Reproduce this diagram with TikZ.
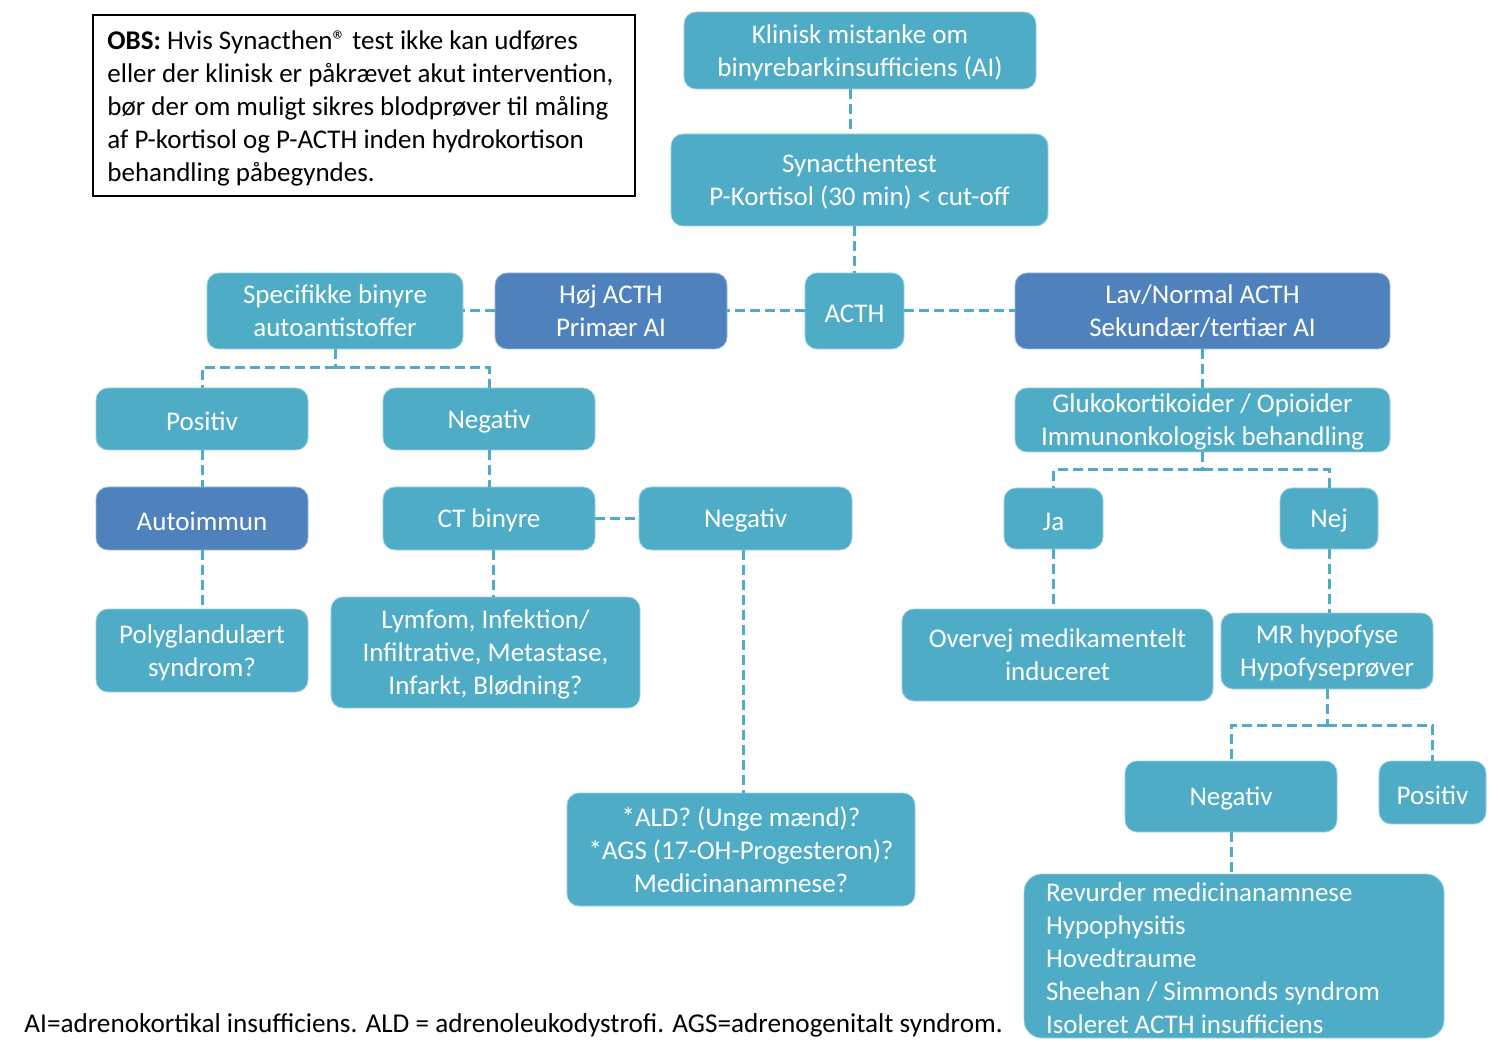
\documentclass[tikz,border=0pt]{standalone}
\usepackage{fontspec}
\setmainfont{Carlito}
\definecolor{aqua}{HTML}{4FACC6}
\definecolor{navy}{HTML}{4F81BD}
\newcommand{\boxfont}{\fontsize{13.5}{16.5}\selectfont}
\begin{document}
\begin{tikzpicture}[x=0.5pt,y=-0.5pt,
  lbox/.style={rounded corners=6pt, fill=aqua, draw=aqua!55!white, line width=0.4pt, text=white, align=center, inner sep=0pt, font=\boxfont},
  one/.style={execute at begin node={\rule{0pt}{11.6pt}}},
  multi/.style={text depth=-0.7pt},
  dbox/.style={lbox, fill=navy, draw=navy!55!white},
  conn/.style={draw=aqua, line width=1.5pt, dash pattern=on 5pt off 2.5pt}]
\useasboundingbox (0,0) rectangle (1502,1052);
% OBS note
\node[draw=black, line width=0.6pt, minimum width=271pt, minimum height=90.5pt, inner sep=0pt] (obs) at (364,105.5) {};
\node[anchor=north west, align=left, inner sep=0pt, font=\boxfont] (obstxt) at (107,30) {\textbf{OBS:} Hvis Synacthen® test ikke kan udføres\\eller der klinisk er påkrævet akut intervention,\\bør der om muligt sikres blodprøver til måling\\af P-kortisol og P-ACTH inden hydrokortison\\behandling påbegyndes.};
% boxes
\node[lbox, multi, minimum width=176pt, minimum height=38.5pt] (klin) at (860,50.5) {Klinisk mistanke om\\binyrebarkinsufficiens (AI)};
\node[lbox, multi, minimum width=188.5pt, minimum height=46pt] (syn) at (859.5,180) {Synacthentest\\P-Kortisol (30 min) < cut-off};
\node[lbox, one, minimum width=49.5pt, minimum height=38pt] (acth) at (854.5,311) {ACTH};
\node[dbox, multi, minimum width=116pt, minimum height=38pt] (hoj) at (611,311) {Høj ACTH\\Primær AI};
\node[lbox, multi, minimum width=128pt, minimum height=38pt] (spec) at (335,311) {Specifikke binyre\\autoantistoffer};
\node[dbox, multi, minimum width=187.5pt, minimum height=38pt] (lav) at (1202.5,311) {Lav/Normal ACTH\\Sekundær/tertiær AI};
\node[lbox, one, minimum width=106pt, minimum height=31pt] (pos1) at (202,419) {Positiv};
\node[lbox, one, minimum width=106pt, minimum height=31pt] (neg1) at (489,419) {Negativ};
\node[dbox, one, minimum width=106pt, minimum height=31.5pt] (auto) at (202,518.5) {Autoimmun};
\node[lbox, one, minimum width=106pt, minimum height=31.5pt] (ct) at (489,518.5) {CT binyre};
\node[lbox, one, minimum width=106.5pt, minimum height=31.5pt] (neg2) at (745.5,518.5) {Negativ};
\node[lbox, multi, minimum width=106pt, minimum height=41.5pt] (poly) at (202,650.5) {Polyglandulært\\syndrom?};
\node[lbox, multi, minimum width=154.5pt, minimum height=55.5pt] (lym) at (485.5,652.5) {Lymfom, Infektion/\\Infiltrative, Metastase,\\Infarkt, Blødning?};
\node[lbox, multi, minimum width=174pt, minimum height=56.5pt] (ald) at (741,849.5) {*ALD? (Unge mænd)?\\*AGS (17-OH-Progesteron)?\\Medicinanamnese?};
\node[lbox, multi, minimum width=187.5pt, minimum height=32pt] (glu) at (1202.5,420) {Glukokortikoider / Opioider\\Immunonkologisk behandling};
\node[lbox, one, minimum width=49.5pt, minimum height=30.5pt] (ja) at (1053.5,518.5) {Ja};
\node[lbox, one, minimum width=49pt, minimum height=30.5pt] (nej) at (1329,518.5) {Nej};
\node[lbox, multi, minimum width=155.5pt, minimum height=46pt] (ov) at (1057.5,655) {Overvej medikamentelt\\induceret};
\node[lbox, multi, minimum width=106pt, minimum height=38pt] (mr) at (1327,651) {MR hypofyse\\Hypofyseprøver};
\node[lbox, one, minimum width=106pt, minimum height=35.5pt] (neg3) at (1231,796.5) {Negativ};
\node[lbox, one, minimum width=53.5pt, minimum height=31.5pt] (pos3) at (1432.5,792.5) {Positiv};
\node[lbox, one, minimum width=210pt, minimum height=82pt, text width=188pt, align=flush left, rounded corners=9pt] (rev) at (1234,956) {Revurder medicinanamnese\\Hypophysitis\\Hovedtraume\\Sheehan / Simmonds syndrom\\Isoleret ACTH insufficiens};
% footnote
\node[anchor=base west, inner sep=0pt, font=\fontsize{13.6}{16}\selectfont] (foot) at (24,1032) {AI=adrenokortikal insufficiens. ALD = adrenoleukodystrofi. AGS=adrenogenitalt syndrom.};
% connectors
\draw[conn] ([xshift=-5pt]klin.south) -- ([xshift=-5pt]klin.south |- syn.north);
\draw[conn] (syn.south -| acth.north) -- (acth.north);
\draw[conn] (acth.west) -- (hoj.east);
\draw[conn] (acth.east) -- (lav.west);
\draw[conn] (hoj.west) -- (spec.east);
\coordinate (j1) at (335,368);
\draw[conn] (spec.south) -- (j1);
\draw[conn] (j1) -| (pos1.north);
\draw[conn] (j1) -| (neg1.north);
\draw[conn] (pos1.south) -- (auto.north);
\draw[conn] (auto.south) -- (poly.north);
\draw[conn] (neg1.south) -- (ct.north);
\draw[conn] (ct.east) -- (neg2.west);
\draw[conn] ([xshift=2pt]ct.south) -- ([xshift=2pt]ct.south |- lym.north);
\draw[conn] ([xshift=-1pt]neg2.south) -- ([xshift=-1pt]neg2.south |- ald.north);
\draw[conn] (lav.south) -- (glu.north);
\coordinate (j2) at (1202.5,470);
\draw[conn] (glu.south) -- (j2);
\draw[conn] (j2) -| (ja.north);
\draw[conn] (j2) -| (nej.north);
\draw[conn] (ja.south) -- (ja.south |- ov.north);
\draw[conn] (nej.south) -- (nej.south |- mr.north);
\coordinate (j3) at (1327,725);
\draw[conn] (mr.south) -- (j3);
\draw[conn] (j3) -| (neg3.north);
\draw[conn] (j3) -| (pos3.north);
\draw[conn] (neg3.south) -- (neg3.south |- rev.north);
\end{tikzpicture}
\end{document}
